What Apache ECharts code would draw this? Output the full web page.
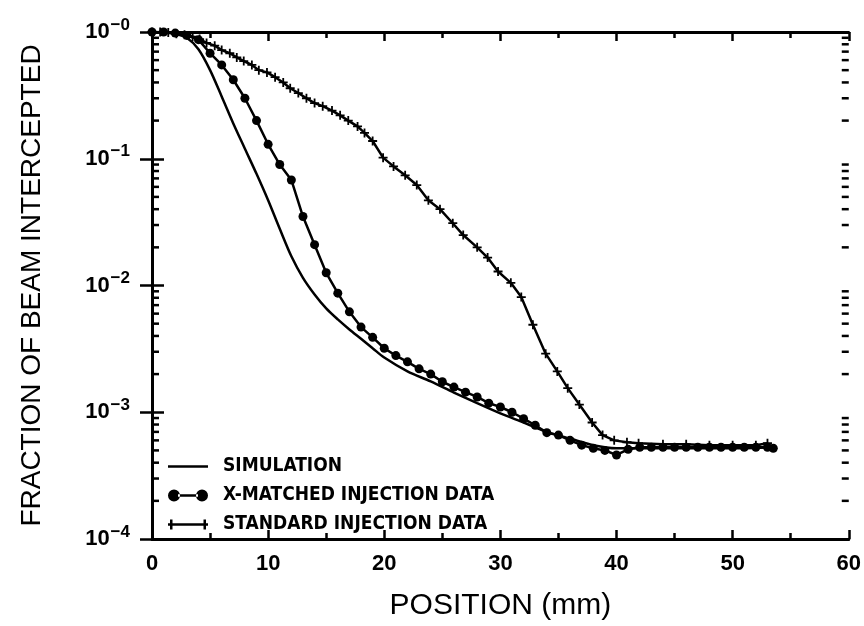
<!DOCTYPE html>
<html>
<head>
<meta charset="utf-8">
<script src="https://cdn.jsdelivr.net/npm/echarts@6/dist/echarts.min.js"></script>
<style>
  html, body { margin: 0; padding: 0; background: #fff; }
  #chart { width: 864px; height: 626px; }
</style>
</head>
<body>
<div id="chart"></div>
<script>
// values (position in mm, fraction intercepted)
var simX = [0, 1, 2, 3, 4, 5, 6, 7, 8, 9, 10, 11, 12, 13, 14, 15, 16, 17, 18, 19, 20,
  22, 24, 26, 28, 30, 32, 34, 36, 38, 40, 45, 50, 53.5];
var simY = [1.0, 0.99, 0.97, 0.9, 0.73, 0.5, 0.31, 0.19, 0.12, 0.076, 0.047, 0.028, 0.017,
  0.0115, 0.0085, 0.0066, 0.0054, 0.0045, 0.0038, 0.0032, 0.0027,
  0.0021, 0.00175, 0.00143, 0.00118, 0.00098, 0.00083, 0.0007, 0.00062, 0.00055, 0.00052,
  0.00052, 0.00052, 0.00053];

var xmX = [0, 1, 2, 3, 4, 5, 6, 7, 8, 9, 10, 11, 12, 13, 14, 15, 16, 17, 18, 19, 20,
  21, 22, 23, 24, 25, 26, 27, 28, 29, 30, 31, 32, 33, 34, 35, 36, 37, 38, 39, 40,
  41, 42, 43, 44, 45, 46, 47, 48, 49, 50, 51, 52, 53, 53.5];
var xmY = [1.0, 1.0, 0.98, 0.94, 0.87, 0.68, 0.55, 0.42, 0.3, 0.2, 0.13, 0.09, 0.068,
  0.035, 0.021, 0.0126, 0.0087, 0.0062, 0.0047, 0.0039, 0.0032,
  0.0028, 0.0025, 0.0022, 0.002, 0.00174, 0.00158, 0.00144, 0.00132, 0.00118, 0.0011,
  0.001, 0.00089, 0.00079, 0.00069, 0.00066, 0.0006, 0.00055, 0.00052, 0.0005, 0.00046,
  0.00051, 0.00053, 0.00053, 0.00053, 0.00053, 0.00053, 0.00053, 0.00053, 0.00053, 0.00053,
  0.00053, 0.00053, 0.00053, 0.00052];

var stdX = [0, 0.7, 1.4, 2.1, 2.8, 3.5, 4.1, 4.7, 5.4, 6.0, 6.7, 7.3, 7.9, 8.6, 9.2, 9.9,
  10.6, 11.3, 11.9, 12.6, 13.3, 14.0, 14.7, 15.5, 16.2, 16.9, 17.7, 18.3, 19.0, 19.9,
  20.8, 21.8, 22.8, 23.8, 24.8, 25.9, 26.8, 28.0, 28.9, 29.8, 30.9, 31.8, 32.8, 33.9,
  34.9, 35.8, 36.8, 37.9, 38.8, 39.8, 40.9, 41.9, 44, 46, 48, 50, 52, 53];
var stdY = [1.0, 1.0, 0.99, 0.97, 0.95, 0.92, 0.88, 0.82, 0.78, 0.72, 0.68, 0.63, 0.59,
  0.55, 0.5, 0.48, 0.44, 0.4, 0.36, 0.33, 0.3, 0.275, 0.26, 0.24, 0.22, 0.2, 0.18, 0.16,
  0.138, 0.102, 0.087, 0.074, 0.062, 0.047, 0.04, 0.031, 0.025, 0.02, 0.0166, 0.0129,
  0.0105, 0.0081, 0.0049, 0.0029, 0.0021, 0.00155, 0.00115, 0.00083, 0.00066, 0.0006,
  0.00058, 0.00057, 0.00056, 0.00056, 0.00055, 0.00055, 0.00055, 0.00057];

var xTicks = [0, 10, 20, 30, 40, 50, 60];
var decades = [-4, -3, -2, -1, 0];

var names = ["SIMULATION", "X-MATCHED INJECTION DATA", "STANDARD INJECTION DATA"];

function pairs(xs, ys) {
  var out = [];
  for (var i = 0; i < xs.length; i++) out.push([xs[i], ys[i]]);
  return out;
}

// minor ticks 2..9 in each decade, drawn on both sides of the frame
var minorVals = [];
for (var d = 0; d < decades.length - 1; d++) {
  for (var m = 2; m <= 9; m++) minorVals.push([0, m * Math.pow(10, decades[d])]);
}

var plusPath = "path://M4,0h2v10h-2zM0,4h10v2h-10z";

var chart = echarts.init(document.getElementById("chart"));

var yLabel = {
  margin: 22,
  formatter: function(v) {
    var e = Math.round(Math.log10(v));
    return "{b|10}{s|\u2212" + Math.abs(e) + "}";
  },
  rich: {
    b: { fontSize: 22, fontWeight: "bold", fontFamily: "Liberation Sans", color: "#000" },
    s: { fontSize: 17, fontWeight: "bold", fontFamily: "Liberation Sans", color: "#000",
      padding: [0, 0, 14, 1] }
  }
};

var option = {
  animation: false,
  backgroundColor: "#fff",
  grid: { left: 152, right: 15, top: 32, bottom: 87 },
  legend: {
    orient: "vertical",
    left: 168,
    top: 457,
    padding: 0,
    itemWidth: 40,
    itemHeight: 14,
    itemGap: 10,
    textStyle: {
      fontFamily: "'DejaVu Sans Condensed', 'Liberation Sans', sans-serif",
      fontWeight: "bold",
      fontSize: 19,
      color: "#000",
      padding: [0, 0, 0, 10]
    },
    data: [
      { name: names[0], icon: "path://M0,0h40v2.5h-40z" },
      { name: names[1], icon: "path://M0,6a6,6 0 1,0 12,0a6,6 0 1,0 -12,0zM28,6a6,6 0 1,0 12,0a6,6 0 1,0 -12,0zM10,4.8h20v2.5h-20z" },
      { name: names[2], icon: "path://M0,4.8h40v2.4h-40zM2,1h2.5v10h-2.5zM35.5,1h2.5v10h-2.5z" }
    ]
  },
  xAxis: [
    {
      type: "value", min: xTicks[0], max: xTicks[xTicks.length - 1], interval: 10,
      position: "bottom",
      name: "POSITION (mm)", nameLocation: "middle", nameGap: 52,
      nameTextStyle: { fontSize: 30, fontFamily: "Liberation Sans", color: "#000" },
      axisLine: { lineStyle: { color: "#000", width: 3 } },
      axisTick: { inside: true, length: 9, lineStyle: { color: "#000", width: 2.5 } },
      minorTick: { show: true, splitNumber: 2, length: 6, lineStyle: { color: "#000", width: 2.5 } },
      axisLabel: { margin: 14, fontSize: 22, fontWeight: "bold", fontFamily: "Liberation Sans", color: "#000" },
      splitLine: { show: false }
    },
    {
      type: "value", min: xTicks[0], max: xTicks[xTicks.length - 1], interval: 10,
      position: "top",
      axisLine: { lineStyle: { color: "#000", width: 3 } },
      axisTick: { inside: true, length: 9, lineStyle: { color: "#000", width: 2.5 } },
      minorTick: { show: true, splitNumber: 2, length: 6, lineStyle: { color: "#000", width: 2.5 } },
      axisLabel: { show: false },
      splitLine: { show: false }
    }
  ],
  yAxis: [
    {
      type: "log", logBase: 10, min: 1e-4, max: 1,
      position: "left",
      name: "FRACTION OF BEAM INTERCEPTED", nameLocation: "middle", nameGap: 106,
      nameTextStyle: { fontSize: 28, fontFamily: "Liberation Sans", color: "#000" },
      axisLine: { lineStyle: { color: "#000", width: 3 } },
      axisTick: { inside: true, length: 12, lineStyle: { color: "#000", width: 2.5 } },
      axisLabel: yLabel,
      splitLine: { show: false }
    },
    {
      type: "log", logBase: 10, min: 1e-4, max: 1,
      position: "right",
      axisLine: { lineStyle: { color: "#000", width: 3 } },
      axisTick: { inside: true, length: 12, lineStyle: { color: "#000", width: 2.5 } },
      axisLabel: { show: false },
      splitLine: { show: false }
    }
  ],
  series: [
    {
      name: names[0], type: "line", data: pairs(simX, simY),
      smooth: 0.3, showSymbol: false,
      lineStyle: { color: "#000", width: 2.5 }, itemStyle: { color: "#000" }
    },
    {
      name: names[1], type: "line", data: pairs(xmX, xmY),
      symbol: "circle", symbolSize: 9, showAllSymbol: true,
      lineStyle: { color: "#000", width: 2.5 }, itemStyle: { color: "#000" }
    },
    {
      name: names[2], type: "line", data: pairs(stdX, stdY),
      symbol: plusPath, symbolSize: 9, showAllSymbol: true,
      lineStyle: { color: "#000", width: 2.5 }, itemStyle: { color: "#000" }
    },
    {
      type: "custom", silent: true, z: 5,
      data: minorVals,
      renderItem: function(params, api) {
        var cs = params.coordSys;
        var p = api.coord([api.value(0), api.value(1)]);
        var style = { stroke: "#000", lineWidth: 2.5 };
        return {
          type: "group",
          children: [
            { type: "line", shape: { x1: cs.x, y1: p[1], x2: cs.x + 7, y2: p[1] }, style: style },
            { type: "line", shape: { x1: cs.x + cs.width - 7, y1: p[1], x2: cs.x + cs.width, y2: p[1] }, style: style }
          ]
        };
      }
    }
  ]
};

chart.setOption(option);
</script>
</body>
</html>
